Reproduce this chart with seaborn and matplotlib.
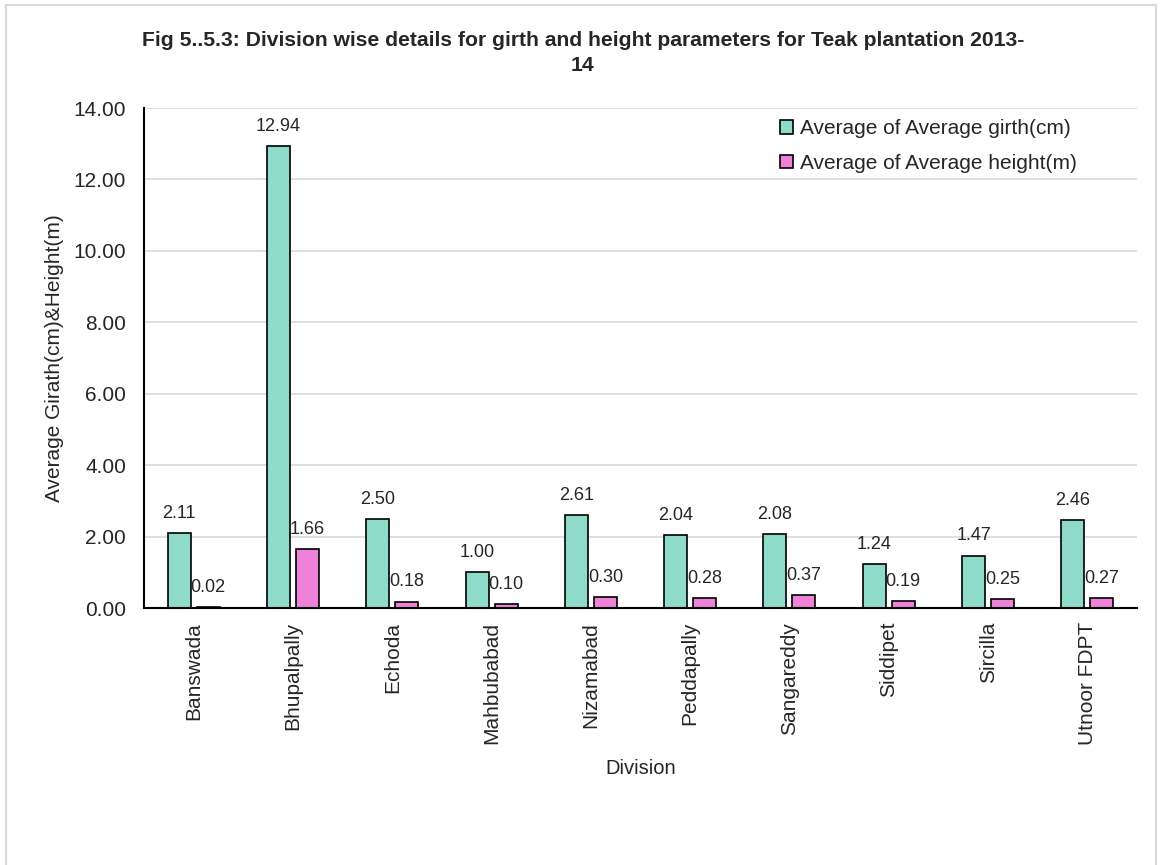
import matplotlib
matplotlib.use("Agg")
import matplotlib.pyplot as plt
from matplotlib.patches import Rectangle, Patch
import seaborn as sns
import pandas as pd

divisions = ["Banswada", "Bhupalpally", "Echoda", "Mahbubabad", "Nizamabad",
             "Peddapally", "Sangareddy", "Siddipet", "Sircilla", "Utnoor FDPT"]
avg_girth = [2.11, 12.94, 2.50, 1.00, 2.61, 2.04, 2.08, 1.24, 1.47, 2.46]
avg_height = [0.02, 1.66, 0.18, 0.10, 0.30, 0.28, 0.37, 0.19, 0.25, 0.27]
series_names = ["Average of Average girth(cm)", "Average of Average height(m)"]
colors = ["#8FDBC9", "#EE82D8"]

df = pd.DataFrame({
    "Division": divisions * 2,
    "Series": [series_names[0]] * len(divisions) + [series_names[1]] * len(divisions),
    "Value": avg_girth + avg_height,
})

sns.set_theme(style="white")
plt.rcParams["font.family"] = ["Liberation Sans", "DejaVu Sans"]

fig = plt.figure(figsize=(11.62, 8.65), dpi=100)
ax = fig.add_axes([144 / 1162, 1 - 608 / 865, (1137 - 144) / 1162, 500 / 865])

sns.barplot(data=df, x="Division", y="Value", hue="Series", hue_order=series_names,
            palette=colors, width=0.584, gap=0.205, edgecolor="black", linewidth=1.2,
            saturation=1, ax=ax, legend=False, errorbar=None)

ax.set_ylim(0, 14)
ax.set_yticks(range(0, 15, 2))
ax.set_yticklabels([f"{v:.2f}" for v in range(0, 15, 2)], fontsize=15)
ax.tick_params(axis="x", labelrotation=90, labelsize=15, length=0, pad=10)
ax.tick_params(axis="y", length=0, pad=13)
ax.grid(axis="y", color="#D9D9D9", linewidth=1.2)
ax.set_axisbelow(True)
for side in ["top", "right"]:
    ax.spines[side].set_visible(False)
for side in ["left", "bottom"]:
    ax.spines[side].set_color("black")
    ax.spines[side].set_linewidth(1.5)

ax.set_xlabel("Division", fontsize=14.5, labelpad=10)
ax.set_ylabel("Average Girath(cm)&Height(m)", fontsize=15, labelpad=7)

for container in ax.containers:
    ax.bar_label(container, labels=[f"{b.get_height():.2f}" for b in container],
                 fontsize=13, padding=8)

handles = [Patch(facecolor=c, edgecolor="black", linewidth=1.2) for c in colors]
ax.legend(handles, series_names, loc="upper left", bbox_to_anchor=(0.622, 1.015),
          frameon=False, fontsize=15, handlelength=0.6, handleheight=0.6,
          handletextpad=0.35, labelspacing=0.75)

fig.text(583 / 1162, 1 - 53 / 865,
         "Fig 5..5.3: Division wise details for girth and height parameters for Teak plantation 2013-\n14",
         ha="center", va="center", fontsize=15.2, fontweight="bold",
         multialignment="center", linespacing=1.35)

fig.patches.append(Rectangle((6 / 1162, -0.05), 1150 / 1162, 1.05 - 5 / 865,
                             transform=fig.transFigure, fill=False,
                             edgecolor="#D9D9D9", linewidth=1.5))

fig.savefig("out.png", dpi=100)
